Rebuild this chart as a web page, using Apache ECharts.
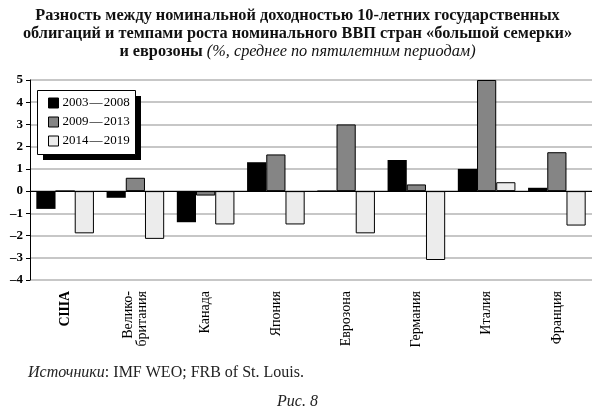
<!DOCTYPE html>
<html>
<head>
<meta charset="utf-8">
<script src="https://cdn.jsdelivr.net/npm/echarts@6/dist/echarts.min.js"></script>
<style>
  html, body { margin: 0; padding: 0; background: #fff; }
  #chart { width: 595px; height: 411px; }
</style>
</head>
<body>
<div id="chart"></div>
<script>
// countries and periods
var categories = ['США', 'Велико-\nбритания', 'Канада', 'Япония', 'Еврозона', 'Германия', 'Италия', 'Франция'];
var periods = ['2003\u200a—\u200a2008', '2009\u200a—\u200a2013', '2014\u200a—\u200a2019'];

// average spread, %
var p2003 = [-0.8, -0.3, -1.4, 1.3, 0.03, 1.4, 1.0, 0.15];
var p2009 = [0, 0.6, -0.2, 1.65, 3.0, 0.3, 5.0, 1.75];
var p2014 = [-1.9, -2.15, -1.5, -1.5, -1.9, -3.1, 0.4, -1.55];

var yTicks = [-4, -3, -2, -1, 0, 1, 2, 3, 4, 5];

var serif = '"Liberation Serif", "DejaVu Serif", serif';
var colors = ['#000000', '#858585', '#ececec'];

var chart = echarts.init(document.getElementById('chart'));

function bar(name, data, i) {
    return {
        name: name,
        type: 'bar',
        data: data,
        barGap: '0%',
        barCategoryGap: '18%',
        itemStyle: { color: colors[i], borderColor: '#000', borderWidth: i == 0 ? 0 : 1 }
    };
}

var series = [bar(periods[0], p2003, 0), bar(periods[1], p2009, 1), bar(periods[2], p2014, 2)];
// zero line
series[0].markLine = {
    silent: true, symbol: 'none', label: { show: false },
    lineStyle: { color: '#000', width: 1, type: 'solid' },
    data: [{ yAxis: 0 }]
};

var option = {
    animation: false,
    backgroundColor: '#fff',
    title: [{
        left: 'center', top: 7, padding: 0,
        text: 'Разность между номинальной доходностью 10-летних государственных\nоблигаций и темпами роста номинального ВВП стран «большой семерки»\n{b|и еврозоны} {i|(%, среднее по пятилетним периодам)}',
        textStyle: {
            fontFamily: serif, fontWeight: 'bold', fontSize: 16.3, lineHeight: 18, color: '#111',
            rich: {
                b: { fontFamily: serif, fontWeight: 'bold', fontSize: 16.3, lineHeight: 18, color: '#111' },
                i: { fontFamily: serif, fontStyle: 'italic', fontWeight: 'normal', fontSize: 16.3, lineHeight: 18, color: '#111' }
            }
        }
    }, {
        left: 28, top: 365, padding: 0,
        text: '{i|Источники}: IMF WEO; FRB of St. Louis.',
        textStyle: {
            fontFamily: serif, fontWeight: 'normal', fontSize: 16, color: '#222',
            rich: { i: { fontFamily: serif, fontStyle: 'italic', fontSize: 16, color: '#222' } }
        }
    }, {
        left: 'center', top: 394, padding: 0,
        text: 'Рис. 8',
        textStyle: { fontFamily: serif, fontStyle: 'italic', fontWeight: 'normal', fontSize: 16, color: '#222' }
    }],
    // legend frame with its offset shadow
    graphic: [
        { type: 'rect', z: 10, shape: { x: 43, y: 96, width: 98, height: 64 }, style: { fill: '#000' } },
        { type: 'rect', z: 11, shape: { x: 37.5, y: 90.5, width: 98, height: 64 }, style: { fill: '#fff', stroke: '#000', lineWidth: 1 } }
    ],
    legend: {
        orient: 'vertical',
        left: 48, top: 96,
        z: 20,
        data: periods,
        icon: 'rect',
        itemWidth: 10, itemHeight: 10,
        itemGap: 5,
        padding: 0,
        itemStyle: { borderColor: '#000', borderWidth: 1 },
        textStyle: { fontFamily: serif, fontSize: 13, lineHeight: 14, color: '#000', padding: [0, 0, 0, -1] }
    },
    grid: { left: 30, top: 80, right: 3, bottom: 131 },
    xAxis: {
        type: 'category',
        data: categories,
        axisLine: { show: false },
        axisTick: { show: false },
        axisLabel: {
            rotate: 90, margin: 11, interval: 0,
            fontFamily: serif, fontSize: 14, lineHeight: 14, color: '#000',
            formatter: function (v, i) { return i === 0 ? '{b|' + v + '}' : v; },
            rich: { b: { fontFamily: serif, fontSize: 14, fontWeight: 'bold', color: '#000' } }
        }
    },
    yAxis: {
        type: 'value',
        min: yTicks[0], max: yTicks[yTicks.length - 1], interval: 1,
        axisLine: { show: true, lineStyle: { color: '#000', width: 1 } },
        axisTick: { show: true, length: 4, lineStyle: { color: '#000' } },
        axisLabel: {
            margin: 7, fontFamily: serif, fontWeight: 'bold', fontSize: 13, color: '#000',
            formatter: function (v) { return v < 0 ? '–' + Math.abs(v) : String(v); }
        },
        splitLine: { show: true, lineStyle: { color: '#b4b4b4', width: 1.5 } }
    },
    series: series
};

chart.setOption(option);
window.onresize = function () { chart.resize(); };
</script>
</body>
</html>
